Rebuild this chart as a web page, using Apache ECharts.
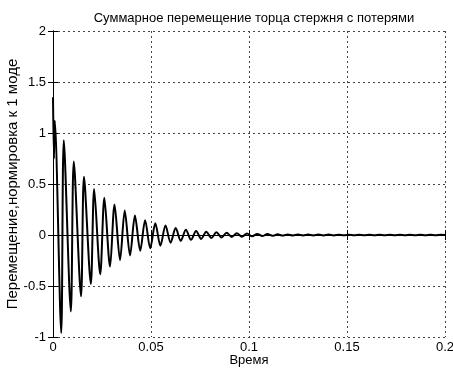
<!DOCTYPE html>
<html>
<head>
<meta charset="utf-8">
<script src="https://cdn.jsdelivr.net/npm/echarts@6/dist/echarts.min.js"></script>
<style>html,body{margin:0;padding:0;background:#fff;}#c{width:453px;height:373px;}</style>
</head>
<body>
<div id="c"></div>
<script>
var titleText = 'Суммарное перемещение торца стержня с потерями';
var xLabel = 'Время';
var yLabel = 'Перемещение,нормировка к 1 моде';
var xTicks = [0, 0.05, 0.1, 0.15, 0.2];
var yTicks = [-1, -0.5, 0, 0.5, 1, 1.5, 2];

// extrema (time, value)
var times = [0, 0.0005, 0.0009,
  0.0042, 0.0055, 0.0091, 0.0106, 0.0143, 0.0158, 0.0193, 0.0210,
  0.0241, 0.0262, 0.0291, 0.0314, 0.0342, 0.0366, 0.0393, 0.0418,
  0.0445, 0.0470, 0.0496, 0.0522, 0.0548, 0.0574, 0.0600, 0.0626,
  0.0652, 0.0678, 0.0704, 0.0730, 0.0756, 0.0782, 0.0808, 0.0834,
  0.0860, 0.0886, 0.0912, 0.0938, 0.0964, 0.0990, 0.1016, 0.1042,
  0.1068, 0.1094, 0.1120, 0.1146, 0.1172, 0.1198, 0.1224, 0.1250,
  0.1276, 0.1302, 0.1328, 0.1354, 0.1380, 0.1406, 0.1432, 0.1458,
  0.1484, 0.1510, 0.1536, 0.1562, 0.1588, 0.1614, 0.1640, 0.1666,
  0.1692, 0.1718, 0.1744, 0.1770, 0.1796, 0.1822, 0.1848, 0.1874,
  0.1900, 0.1926, 0.1952, 0.1978, 0.2000];
var values = [1.35, 0.75, 1.12,
  -0.96, 0.93, -0.75, 0.72, -0.60, 0.57, -0.48, 0.45,
  -0.385, 0.365, -0.31, 0.30, -0.245, 0.24, -0.20, 0.19,
  -0.155, 0.145, -0.13, 0.115, -0.105, 0.092, -0.075, 0.068,
  -0.057, 0.052, -0.047, 0.040, -0.038, 0.032, -0.030, 0.026,
  -0.024, 0.021, -0.019, 0.017, -0.016, 0.014, -0.013, 0.011,
  -0.010, 0.009, -0.008, 0.007, -0.006, 0.005, -0.005, 0.004,
  -0.004, 0.004, -0.004, 0.004, -0.004, 0.004, -0.004, 0.0035,
  -0.0035, 0.0035, -0.0035, 0.0035, -0.0035, 0.0035, -0.0035, 0.003,
  -0.003, 0.003, -0.003, 0.003, -0.003, 0.003, -0.003, 0.003,
  -0.003, 0.003, -0.003, 0.003, 0.0];

var data = times.map(function (t, i) { return [t, values[i]]; });
var font = 'Liberation Sans, Arial, sans-serif';
var grid = {left: 53, right: 8, top: 31, bottom: 36, outerBoundsMode: 'none', containLabel: false};
var gridLine = {show: true, lineStyle: {color: '#444', type: [2, 3], width: 1}};
var axisLineStyle = {show: true, lineStyle: {color: '#000', width: 1}};
var tick = {show: true, inside: true, length: 5, lineStyle: {color: '#000'}};

var chart = echarts.init(document.getElementById('c'), null, {renderer: 'canvas'});
chart.setOption({
  animation: false,
  backgroundColor: '#fff',
  title: {text: titleText, left: 249, top: 7, textAlign: 'center',
    textStyle: {fontFamily: font, fontSize: 13, fontWeight: 'normal', color: '#000'}},
  grid: grid,
  xAxis: [{
    type: 'value', min: xTicks[0], max: xTicks[xTicks.length - 1], interval: 0.05,
    name: xLabel, nameLocation: 'middle', nameGap: 17, nameMoveOverlap: false,
    nameTextStyle: {fontFamily: font, fontSize: 13, color: '#000'},
    axisLine: axisLineStyle, axisTick: tick, splitLine: gridLine,
    axisLabel: {fontFamily: font, fontSize: 13, color: '#000', margin: 4}
  }, {
    type: 'value', position: 'top', min: xTicks[0], max: xTicks[xTicks.length - 1], interval: 0.05,
    axisLine: axisLineStyle, axisTick: tick, splitLine: {show: false}, axisLabel: {show: false}
  }],
  yAxis: [{
    type: 'value', min: yTicks[0], max: yTicks[yTicks.length - 1], interval: 0.5,
    name: yLabel, nameLocation: 'middle', nameGap: 33, nameMoveOverlap: false,
    nameTextStyle: {fontFamily: font, fontSize: 15, color: '#000'},
    axisLine: axisLineStyle, axisTick: tick, splitLine: gridLine,
    axisLabel: {fontFamily: font, fontSize: 13, color: '#000', margin: 7}
  }, {
    type: 'value', position: 'right', min: yTicks[0], max: yTicks[yTicks.length - 1], interval: 0.5,
    axisLine: axisLineStyle, axisTick: tick, splitLine: {show: false}, axisLabel: {show: false}
  }],
  series: [{
    type: 'line', data: data, showSymbol: false, smooth: 0.3,
    lineStyle: {color: '#000', width: 2}, z: 5
  }]
});
</script>
</body>
</html>
